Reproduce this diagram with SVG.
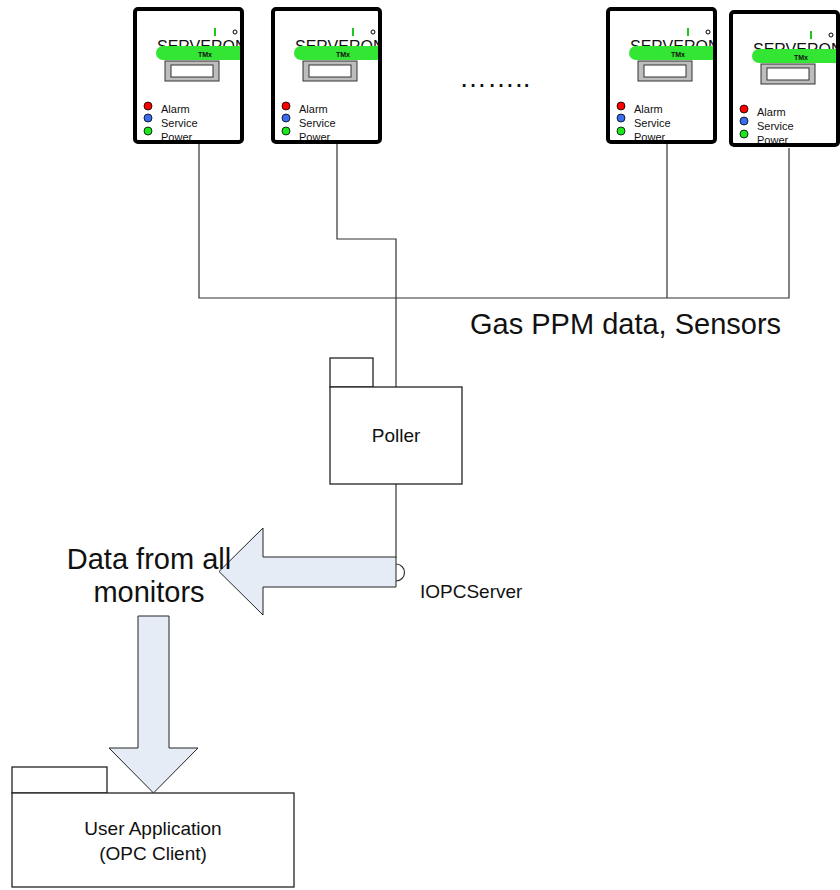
<svg xmlns="http://www.w3.org/2000/svg" xmlns:xlink="http://www.w3.org/1999/xlink" width="840" height="890" viewBox="0 0 840 890">
<style>
text{font-family:"Liberation Sans",Arial,Helvetica,sans-serif;fill:#111}
.wire{fill:none;stroke:#333;stroke-width:1.2}
.pkg{fill:#fff;stroke:#222;stroke-width:1.3}
.flow{fill:#e6ecf6;stroke:#222;stroke-width:1}
.frame{fill:none;stroke:#000;stroke-width:4}
.led{stroke:#000;stroke-width:0.8}
.ledtxt{font-size:11px}
.lbl{font-size:19px}
.big{font-size:29px}
</style>
<defs>
  <clipPath id="panel"><rect x="4" y="4" width="103" height="129"/></clipPath>
  <!-- TMx monitor front panel, 111 x 137 -->
  <g id="tmx">
    <rect x="0" y="0" width="111" height="137" rx="3" fill="#fff"/>
    <g clip-path="url(#panel)">
      <text x="24" y="44.5" font-size="16">SERVERON</text>
      <rect x="23" y="39" width="100" height="14" rx="7" fill="#33e633"/>
      <text x="72" y="50" font-size="7" font-weight="bold" text-anchor="middle">TMx</text>
      <line x1="82" y1="21" x2="82" y2="29" stroke="#1fc41f" stroke-width="2"/>
      <circle cx="102" cy="25" r="2" fill="#fff" stroke="#000" stroke-width="1"/>
      <rect x="32" y="54" width="54" height="20" fill="#bdbdbd" stroke="#333"/>
      <rect x="38" y="58" width="42" height="12" fill="#fff" stroke="#333"/>
      <circle class="led" cx="15" cy="99" r="4" fill="#ff0000"/>
      <circle class="led" cx="15" cy="111" r="4" fill="#3a6cf0"/>
      <circle class="led" cx="15" cy="124" r="4" fill="#1ee61e"/>
      <text class="ledtxt" x="28" y="106">Alarm</text>
      <text class="ledtxt" x="28" y="120">Service</text>
      <text class="ledtxt" x="28" y="134">Power</text>
    </g>
    <rect class="frame" x="2" y="2" width="107" height="133" rx="3"/>
  </g>
</defs>

<!-- connectors -->
<g id="connectors">
  <path class="wire" d="M199,144 V298 H789 V148"/>
  <path class="wire" d="M337,144 V239 H396 V387"/>
  <path class="wire" d="M667,144 V298"/>
  <path class="wire" d="M396,484 V558"/>
  <path class="wire" d="M396,564 A8.5,8.5 0 0 1 396,581"/>
</g>

<!-- monitors -->
<g id="monitor1"><use xlink:href="#tmx" transform="translate(133,7)"/></g>
<g id="monitor2"><use xlink:href="#tmx" transform="translate(271,7)"/></g>
<g id="monitor3"><use xlink:href="#tmx" transform="translate(606,7)"/></g>
<g id="monitor4"><use xlink:href="#tmx" transform="translate(729,10)"/></g>
<text id="more" x="459" y="87" font-size="28">……..</text>

<text id="bus-label" class="big" x="470" y="334">Gas PPM data, Sensors</text>

<!-- poller package -->
<g id="poller">
  <rect class="pkg" x="330" y="358" width="43" height="29"/>
  <rect class="pkg" x="330" y="387" width="132" height="97"/>
  <text class="lbl" x="396" y="442" text-anchor="middle">Poller</text>
</g>
<text id="iface" class="lbl" x="420" y="598">IOPCServer</text>

<!-- data flow arrows -->
<g id="flow-left">
  <polygon class="flow" points="396,557 263,557 263,528 219,571.5 263,615 263,587 396,587"/>
</g>
<g id="flow-label">
  <text class="big" x="149" y="569" text-anchor="middle">Data from all</text>
  <text class="big" x="149" y="602" text-anchor="middle">monitors</text>
</g>

<!-- client package -->
<g id="client">
  <rect class="pkg" x="12" y="767" width="95" height="26"/>
  <rect class="pkg" x="12" y="793" width="282" height="94"/>
  <text class="lbl" x="153" y="835" text-anchor="middle">User Application</text>
  <text class="lbl" x="153" y="860" text-anchor="middle">(OPC Client)</text>
</g>
<g id="flow-down">
  <polygon class="flow" points="138,616 169,616 169,748 198,748 153.5,793 109,748 138,748"/>
</g>
</svg>
